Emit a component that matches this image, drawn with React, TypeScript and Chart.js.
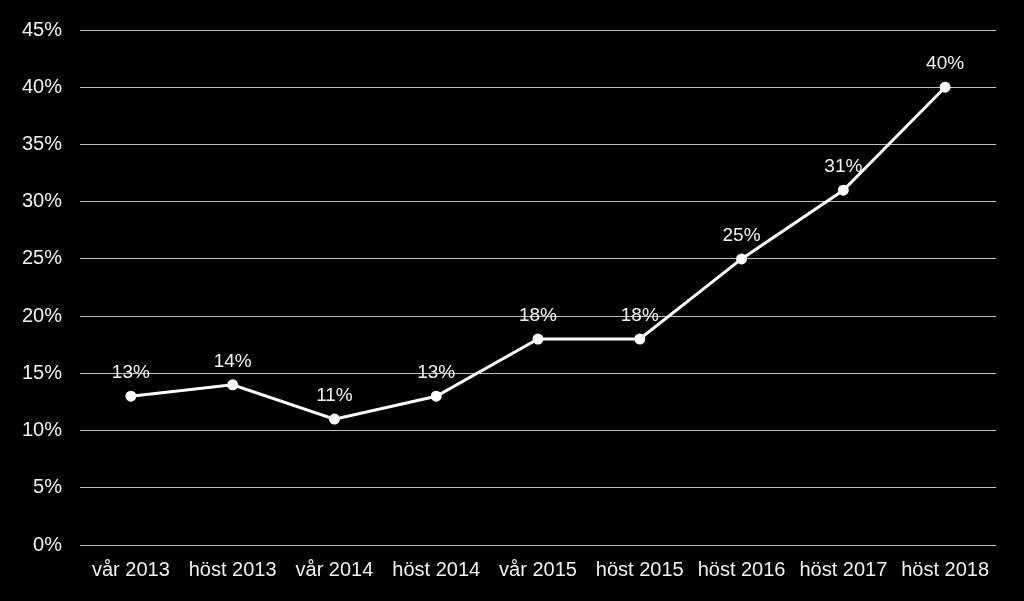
import React, { useEffect, useRef } from "react";
import { Chart, registerables } from "chart.js";

Chart.register(...registerables);

const categories = ["vår 2013", "höst 2013", "vår 2014", "höst 2014", "vår 2015", "höst 2015", "höst 2016", "höst 2017", "höst 2018"];
const values = [13, 14, 11, 13, 18, 18, 25, 31, 40];
const yTicks = [0, 5, 10, 15, 20, 25, 30, 35, 40, 45];

const FONT = "'Liberation Sans', Arial, sans-serif";

const labelPlugin = {
  id: "pointLabels",
  afterDatasetsDraw(chart: any) {
    const ctx = chart.ctx;
    const meta = chart.getDatasetMeta(0);
    ctx.save();
    ctx.fillStyle = "#f2f2f2";
    ctx.font = `19px ${FONT}`;
    ctx.textAlign = "center";
    ctx.textBaseline = "middle";
    meta.data.forEach((pt: any, i: number) => {
      ctx.fillText(values[i] + "%", pt.x, pt.y - 23);
    });
    ctx.restore();
  },
};

export default function App() {
  const ref = useRef<HTMLCanvasElement>(null);
  useEffect(() => {
    document.body.style.margin = "0";
    document.body.style.background = "#000";
    const chart = new Chart(ref.current!, {
      type: "line",
      data: {
        labels: categories,
        datasets: [
          {
            data: values,
            borderColor: "#ffffff",
            backgroundColor: "#ffffff",
            borderWidth: 3,
            pointRadius: 4,
            pointBackgroundColor: "#ffffff",
            pointBorderColor: "#ffffff",
            tension: 0,
          },
        ],
      },
      options: {
        animation: false,
        responsive: false,
        maintainAspectRatio: false,
        layout: { padding: { top: 29, right: 28, left: 0, bottom: 0 } },
        plugins: { legend: { display: false }, tooltip: { enabled: false } },
        scales: {
          x: {
            offset: true,
            grid: { display: false },
            border: { display: false },
            ticks: { color: "#f2f2f2", font: { size: 20, family: FONT }, padding: 5, maxRotation: 0, autoSkip: false },
            afterFit: (s: any) => { s.height = 56; },
          },
          y: {
            min: 0,
            max: 45,
            afterBuildTicks: (s: any) => { s.ticks = yTicks.map((v) => ({ value: v })); },
            grid: { color: "#bfbfbf", lineWidth: 1, drawTicks: false },
            border: { display: false },
            ticks: {
              color: "#f2f2f2",
              font: { size: 20, family: FONT },
              padding: 18,
              callback: (v: any) => v + "%",
            },
            afterFit: (s: any) => { s.width = 80; },
          },
        },
      },
      plugins: [labelPlugin],
    });
    return () => chart.destroy();
  }, []);
  return (
    <div style={{ width: 1024, height: 601, background: "#000" }}>
      <canvas ref={ref} width={1024} height={601} style={{ display: "block" }} />
    </div>
  );
}
